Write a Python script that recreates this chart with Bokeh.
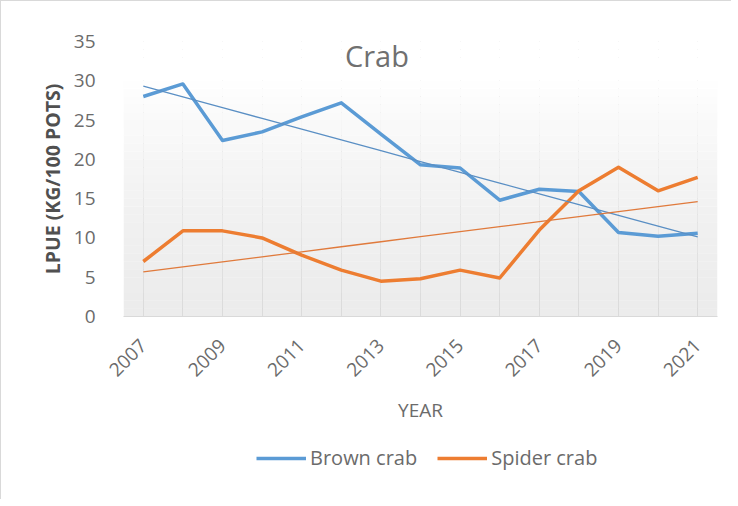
import numpy as np
from bokeh.plotting import figure
from bokeh.layouts import column
from bokeh.models import Range1d, FixedTicker, BoxAnnotation, Label, Legend, LegendItem
from bokeh.embed import file_html
from bokeh.resources import INLINE
from math import pi

years = list(range(2007, 2022))
brown = [28.0, 29.6, 22.4, 23.5, 25.4, 27.2, 23.2, 19.3, 18.9, 14.8, 16.2, 15.9, 10.7, 10.2, 10.6]
spider = [7.0, 10.9, 10.9, 10.0, 7.8, 5.9, 4.5, 4.8, 5.9, 4.9, 11.0, 16.0, 19.0, 16.0, 17.7]
year_labels = list(range(2007, 2022, 2))

blue = "#5B9BD5"
orange = "#ED7D31"
font = "Open Sans"
grey_text = "#6b6b6b"

p = figure(width=730, height=430, x_range=Range1d(2006.5, 2021.5), y_range=Range1d(0, 35),
           output_backend="svg", toolbar_location=None,
           min_border_left=122, min_border_right=14, min_border_top=40, min_border_bottom=115)
p.outline_line_color = None

# gradient plot area: white at top, light grey at the bottom
for v in range(35):
    s = min(1.0, (v + 0.5) / 30.0)
    c = int(225 + 30 * s)
    p.add_layout(BoxAnnotation(bottom=v, top=v + 1, fill_color=(c, c, c), fill_alpha=0.64 + 0.36 * s,
                               line_color=None, level="underlay"))

p.xgrid.ticker = FixedTicker(ticks=years)
p.xgrid.grid_line_color = "#cfcfcf"
p.ygrid.visible = False

p.xaxis.ticker = FixedTicker(ticks=year_labels)
p.xaxis.major_label_orientation = pi / 4
p.xaxis.major_tick_line_color = None
p.xaxis.minor_tick_line_color = None
p.xaxis.axis_line_color = "#d9d9d9"
p.xaxis.major_label_standoff = 20
p.xaxis.major_label_text_font = font
p.xaxis.major_label_text_font_size = "19px"
p.xaxis.major_label_text_color = grey_text
p.xaxis.axis_label = "YEAR"
p.xaxis.axis_label_text_font = font
p.xaxis.axis_label_text_font_style = "normal"
p.xaxis.axis_label_text_font_size = "19px"
p.xaxis.axis_label_text_color = grey_text
p.xaxis.axis_label_standoff = 12

p.yaxis.ticker = FixedTicker(ticks=list(range(0, 36, 5)))
p.yaxis.axis_line_color = None
p.yaxis.major_tick_line_color = None
p.yaxis.minor_tick_line_color = None
p.yaxis.major_label_standoff = 22
p.yaxis.major_label_text_font = font
p.yaxis.major_label_text_font_size = "19px"
p.yaxis.major_label_text_color = grey_text
p.yaxis.axis_label = "LPUE (KG/100 POTS)"
p.yaxis.axis_label_text_font = font
p.yaxis.axis_label_text_font_style = "bold"
p.yaxis.axis_label_text_font_size = "19.5px"
p.yaxis.axis_label_text_color = "#505050"
p.yaxis.axis_label_standoff = 5

p.line(years, brown, line_color=blue, line_width=3.5, line_join="round")
p.line(years, spider, line_color=orange, line_width=3.5, line_join="round")

# linear trend lines
x = np.array(years, dtype=float)
kb = np.polyfit(x, brown, 1)
ks = np.polyfit(x, spider, 1)
p.line(x, np.polyval(kb, x), line_color="#5a8fc4", line_width=1.3)
p.line(x, np.polyval(ks, x), line_color="#e07a3c", line_width=1.3)

p.add_layout(Label(x=2012.9, y=33.2, text="Crab", text_align="center", text_baseline="middle",
                   text_font=font, text_font_size="29px", text_color="#707070"))

# legend strip under the chart (its frame lines up with the chart's frame)
q = figure(width=730, height=68, x_range=Range1d(0, 1), y_range=Range1d(0, 1),
           output_backend="svg", toolbar_location=None,
           x_axis_location=None, y_axis_location=None,
           min_border_left=0, min_border_right=0, min_border_top=0, min_border_bottom=0)
q.outline_line_color = None
q.grid.visible = False
lb = q.line([0, 1], [-1, -1], line_color=blue, line_width=3.5)
ls = q.line([0, 1], [-1, -1], line_color=orange, line_width=3.5)

legend = Legend(items=[LegendItem(label="Brown crab", renderers=[lb]),
                       LegendItem(label="Spider crab", renderers=[ls])],
                location=(133, 28), orientation="horizontal")
legend.border_line_color = None
legend.background_fill_alpha = 0
legend.padding = 0
legend.margin = 0
legend.spacing = 20
legend.glyph_width = 50
legend.label_standoff = 4
legend.label_text_font = font
legend.label_text_font_size = "20px"
legend.label_text_color = grey_text
q.add_layout(legend)

page = column(p, q, styles={"border-left": "1px solid #d9d9d9", "border-top": "1px solid #d9d9d9"})
open("out.html", "w").write(file_html(page, INLINE))
